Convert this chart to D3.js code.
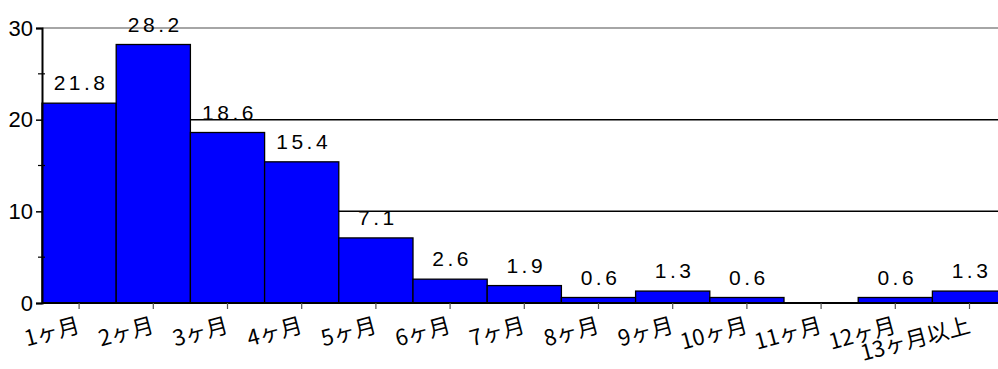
<!DOCTYPE html>
<html><head><meta charset="utf-8">
<script src="https://cdn.jsdelivr.net/npm/d3@7"></script>
<style>body{margin:0;background:#fff}svg{display:block}text{font-family:"Noto Sans CJK JP","Noto Sans",sans-serif}</style>
</head><body>
<svg id="c" width="998" height="369"></svg>
<script>
const categories = ["1ヶ月","2ヶ月","3ヶ月","4ヶ月","5ヶ月","6ヶ月","7ヶ月","8ヶ月","9ヶ月","10ヶ月","11ヶ月","12ヶ月","13ヶ月以上"];
const values = [21.8,28.2,18.6,15.4,7.1,2.6,1.9,0.6,1.3,0.6,0,0.6,1.3];
const yTicks = [0,10,20,30];
const yMinorTicks = [5,15,25];

const svg = d3.select("#c");
const x = d3.scaleBand().domain(categories).range([42, 1006.6]).paddingInner(0).paddingOuter(0);
const y = d3.scaleLinear().domain([0,30]).range([303, 28]);

// gridlines
svg.append("g").selectAll("line").data(yTicks.filter(d=>d>0)).join("line")
  .attr("x1",42).attr("x2",998).attr("y1",d=>y(d)).attr("y2",d=>y(d))
  .attr("stroke",d=>d===30?"#888":"#000").attr("stroke-width",1.5);

// bars
svg.append("g").selectAll("rect").data(values.map((v,i)=>({c:categories[i],v}))).join("rect")
  .attr("x",d=>x(d.c)).attr("width",x.bandwidth())
  .attr("y",d=>y(d.v)).attr("height",d=>y(0)-y(d.v))
  .attr("fill","#0000ff").attr("stroke","#000").attr("stroke-width",1.3)
  .attr("display",d=>d.v>0?null:"none");

// value labels
svg.append("g").selectAll("text").data(values.map((v,i)=>({c:categories[i],v})).filter(d=>d.v>0)).join("text")
  .attr("x",d=>x(d.c)+x.bandwidth()/2+2).attr("y",d=>y(d.v)-13)
  .attr("text-anchor","middle").attr("font-size",21).attr("letter-spacing","3.5px")
  .style("font-family","'Liberation Sans Narrow','Liberation Sans',sans-serif")
  .attr("fill","#000").text(d=>d.v.toFixed(1));

// y axis
const yAxis = d3.axisLeft(y).tickValues(yTicks).tickSize(6).tickPadding(3).tickFormat(d3.format("d"));
const ya = svg.append("g").attr("transform","translate(42,0)").call(yAxis);
ya.select(".domain").attr("stroke","#000").attr("stroke-width",2);
ya.selectAll(".tick line").attr("stroke","#000").attr("stroke-width",1.5);
ya.selectAll(".tick text").attr("font-size",22).attr("fill","#000")
  .style("font-family","'Liberation Sans Narrow','Liberation Sans',sans-serif");
svg.append("g").selectAll("line").data(yMinorTicks).join("line")
  .attr("x1",38).attr("x2",45).attr("y1",d=>y(d)).attr("y2",d=>y(d))
  .attr("stroke","#000").attr("stroke-width",1.2);

// x axis
const xAxis = d3.axisBottom(x).tickSize(6).tickFormat("");
const xa = svg.append("g").attr("transform","translate(0,303)").call(xAxis);
xa.select(".domain").attr("stroke","#000").attr("stroke-width",2)
  .attr("d","M42,0H998");
xa.selectAll(".tick line").attr("stroke","#555").attr("stroke-width",1.2);

// x labels
svg.append("g").selectAll("text").data(categories).join("text")
  .attr("transform",d=>`translate(${x(d)+x.bandwidth()/2+2},332) rotate(-15)`)
  .attr("text-anchor","end").attr("font-size",22).attr("fill","#000").text(d=>d);
</script>
</body></html>
